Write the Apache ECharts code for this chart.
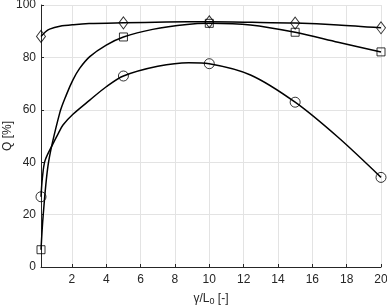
<!DOCTYPE html>
<html>
<head>
<meta charset="utf-8">
<script src="https://cdn.jsdelivr.net/npm/echarts@6/dist/echarts.min.js"></script>
<style>
	html, body { margin: 0; padding: 0; background: #fff; }
	#main { width: 387px; height: 305px; }
</style>
</head>
<body>
<div id="main"></div>
<script>
// tick labels
const xTicks = [2, 4, 6, 8, 10, 12, 14, 16, 18, 20];
const yTicks = [0, 20, 40, 60, 80, 100];

// curve points: [gamma/L0, Q]
const diamondCurve = [[0.2, 88.0], [0.45, 89.7], [0.7, 90.8], [1.3, 91.9], [2.1, 92.5], [3, 92.9], [5, 93.2], [7.5, 93.5], [10, 93.6], [12.5, 93.4], [15, 93.1], [17.5, 92.4], [20, 91.3]];
const squareCurve = [[0.2, 6.6], [0.33, 20], [0.64, 40], [1.3, 59], [1.67, 65.6], [2.06, 71.4], [2.45, 75.8], [3.04, 80.3], [4, 84.7], [5, 87.8], [6.7, 90.7], [8.7, 92.6], [10, 93.0], [12.4, 92.4], [15, 89.6], [17.5, 85.8], [20, 82.1]];
const circleCurve = [[0.2, 26.8], [0.28, 34], [0.43, 40.5], [0.88, 46.8], [1.21, 51], [1.48, 54.2], [2.06, 58.3], [3.04, 63.7], [4, 68.8], [5, 72.9], [7, 76.6], [8.8, 78.0], [10, 77.6], [12.4, 73.3], [15, 62.9], [17.5, 49.5], [20, 34.2]];

// marker positions
const markX = [0.2, 5, 10, 15, 20];
const diamondMarks = [88.0, 93.2, 93.6, 93.1, 91.3];
const squareMarks = [6.6, 87.8, 93.0, 89.6, 82.1];
const circleMarks = [26.8, 72.9, 77.6, 62.9, 34.2];

const ink = '#262626';
const gridColor = '#e3e3e3';

const chart = echarts.init(document.getElementById('main'), null, { renderer: 'canvas' });

const curve = data => ({
	type: 'line',
	data: data,
	smooth: 0.3,
	showSymbol: false,
	lineStyle: { color: '#000', width: 1.5 },
	z: 2
});

const marks = (vals, symbol, size) => ({
	type: 'scatter',
	data: markX.map((x, i) => [x, vals[i]]),
	symbol: symbol,
	symbolSize: size,
	itemStyle: { color: 'rgba(0,0,0,0)', borderColor: '#000', borderWidth: 1 },
	z: 3
});

const option = {
	animation: false,
	grid: { left: 41, right: 6, top: 5, bottom: 38, containLabel: false, outerBoundsMode: 'none' },
	xAxis: {
		type: 'value',
		min: 0.2,
		max: 20,
		splitNumber: 10,
		name: 'γ/L{sub|0} [-]',
		nameLocation: 'middle',
		nameGap: 24,
		nameMoveOverlap: false,
		nameTextStyle: {
			color: ink, fontFamily: 'Liberation Sans', fontSize: 12,
			rich: { sub: { fontSize: 9, verticalAlign: 'bottom', padding: [6, 0, 0, 0], color: ink, fontFamily: 'Liberation Sans' } }
		},
		axisLine: { lineStyle: { color: ink, width: 1 } },
		axisTick: { inside: true, length: 3, customValues: xTicks, lineStyle: { color: ink } },
		axisLabel: { customValues: xTicks, color: ink, fontFamily: 'Liberation Sans', fontSize: 12, margin: 7 },
		splitLine: { show: true, lineStyle: { color: gridColor, width: 1 } }
	},
	yAxis: {
		type: 'value',
		min: 0,
		max: 100,
		interval: 20,
		name: 'Q [%]',
		nameLocation: 'middle',
		nameGap: 27,
		nameRotate: 90,
		nameMoveOverlap: false,
		nameTextStyle: { color: ink, fontFamily: 'Liberation Sans', fontSize: 12 },
		axisLine: { show: true, lineStyle: { color: ink, width: 1 } },
		axisTick: { show: true, inside: true, length: 3, lineStyle: { color: ink } },
		axisLabel: { customValues: yTicks, color: ink, fontFamily: 'Liberation Sans', fontSize: 12, margin: 5 },
		splitLine: { show: true, lineStyle: { color: gridColor, width: 1 } }
	},
	series: [
		curve(diamondCurve),
		curve(squareCurve),
		curve(circleCurve),
		marks(diamondMarks, 'diamond', [9, 12]),
		marks(squareMarks, 'rect', 8),
		marks(circleMarks, 'circle', 10)
	]
};

chart.setOption(option);
</script>
</body>
</html>
